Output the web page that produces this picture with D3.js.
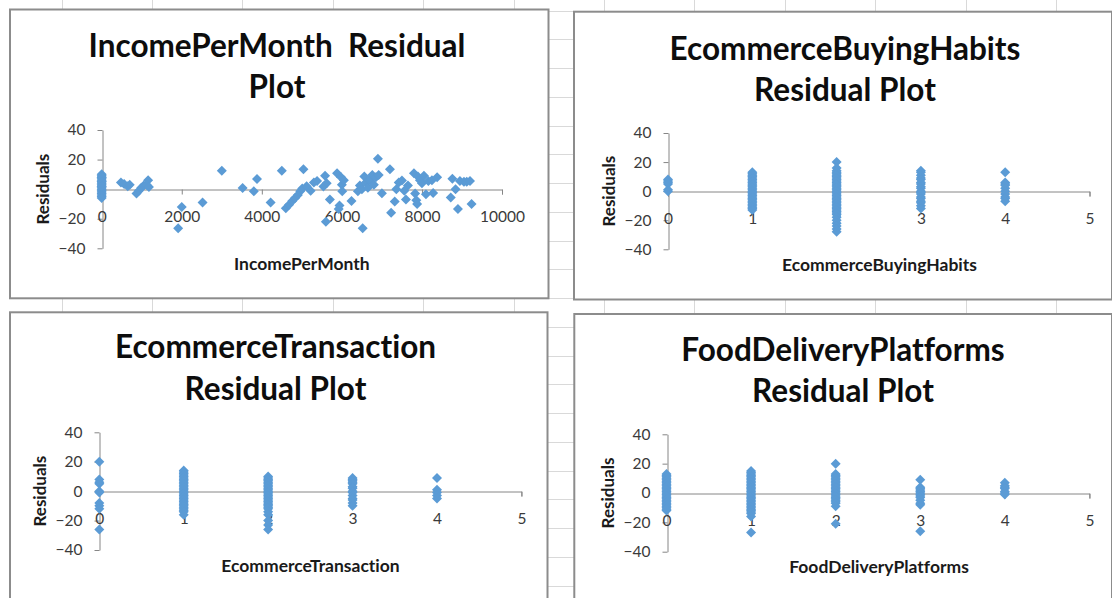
<!DOCTYPE html>
<html>
<head>
<meta charset="utf-8">
<script src="https://cdn.jsdelivr.net/npm/d3@7"></script>
<style>
  html, body { margin: 0; padding: 0; background: #ffffff; }
  svg { display: block; }
  text { font-family: Lato, "Open Sans", sans-serif; font-variant-ligatures: none; white-space: pre; }
</style>
</head>
<body>
<svg id="sheet" width="1112" height="598"></svg>
<script>
// ---- Data -------------------------------------------------------------

// Residuals against monthly income (paired arrays)
const incomePerMonth = [
  0, 0, 0, 0, 0, 0, 0, 0, 0, 0, 0, 0, 0, 0, 0, 0, 0, 0, 0, 0,
  480, 560, 650, 700, 870, 930, 990, 1050, 1120, 1160, 1180,
  1910, 2000, 2520, 3000, 3520, 3800, 3880, 4220, 4500,
  4600, 4680, 4760, 4830, 4900, 4960, 5010, 5040, 5120, 5220,
  5300, 5380, 5540, 5580, 5620, 5600, 5700, 5880, 5920, 5940,
  5980, 6000, 6010, 6050, 6240, 6400, 6450, 6500, 6520, 6560,
  6600, 6650, 6700, 6760, 6800, 6850, 6900, 6920, 7000, 7200,
  7230, 7320, 7360, 7420, 7500, 7560, 7600, 7650, 7800, 7830,
  7860, 7880, 7900, 7950, 8000, 8050, 8100, 8160, 8250, 8280,
  8380, 8720, 8760, 8840, 8900, 8950, 9050, 9120, 9200, 9240
];
const incomeResiduals = [
  10, 9, 8, 7, 6, 5, 4, 3, 2, 1, 0, -1, -2, -3, -4, -5, -6, 8, 5, 2,
  4.5, 3.5, 2, 3, -3, -1, 1, 2.5, 3, 6, 1.5,
  -26.5, -12, -9, 12.5, 0.8, -1.5, 6.8, -9, 12.5,
  -13, -10.5, -8, -6, -4, -1.5, 0.5, 13.5, 2, -1,
  4.5, 5.5, 1.8, 9, 4, -22, -7, 10.8, -13.5, -11,
  8, 3, -1.5, 6, -8, -1.5, 2.5, 0, -26.5, 8.5,
  4.5, 1, 6, 9.5, 3, 8, 20.5, 9.5, -2.8, 13.5,
  -16, -8.3, 0, 4.5, 5.8, -1, -7, 2.5, 10.8, -3,
  -7.5, -10, 8.5, 6, 4, 9, -3.5, 5.5, 6, -2.6,
  8, -5.7, 7, 0, -13.5, 5.5, 5, 5, 5.5, -10
];

// Categorical predictors: one list of residuals per level 0..4
const levels = [0, 1, 2, 3, 4];

const buyingHabitsResiduals = [
  [8, 7, 6, 5, 1, 0],
  [13, 12, 11, 10, 9, 8, 7, 6, 5, 4, 3, 2, 1, 0, -1, -2, -3, -4, -5, -6, -7, -8, -9, -10, -11, -12, -13],
  [20, 16, 14, 13, 12, 11, 10, 9, 8, 7, 6, 5, 4, 3, 2, 1, 0, -1, -2, -3, -4, -5, -6, -7, -8, -9, -10,
   -11, -12, -13, -14, -15, -16, -18, -20, -22, -24, -26, -28],
  [14, 13, 11, 9, 8, 6, 5, 3, 2, 0, -1, -2, -4, -5, -7, -8, -10, -12],
  [13, 6, 5, 4, 2, 0, -2, -4, -5, -7]
];

const transactionResiduals = [
  [20, 8, 6, 5, 0, -1, -8, -10, -12, -26],
  [14, 13, 12, 11, 10, 9, 8, 7, 6, 5, 4, 3, 2, 1, 0, -1, -2, -3, -4, -5, -6, -7, -8, -9, -10, -11, -12,
   -13, -14, -16],
  [10, 9, 8, 7, 6, 5, 4, 3, 2, 1, 0, -1, -2, -3, -4, -5, -6, -7, -8, -9, -10, -11, -12, -14, -16,
   -20, -23, -26],
  [9, 8, 7, 6, 5, 3, 2, 0, -1, -3, -5, -6, -8, -10],
  [9, 1, -1, -3, -5]
];

const foodDeliveryResiduals = [
  [13, 12, 11, 10, 9, 8, 7, 6, 5, 4, 3, 2, 1, 0, -1, -2, -3, -4, -5, -6, -7, -8, -9, -10, -11, -12],
  [15, 14, 13, 12, 11, 10, 9, 8, 7, 6, 5, 4, 3, 2, 1, 0, -1, -2, -3, -4, -5, -6, -7, -8, -9, -10, -11,
   -12, -13, -14, -16, -27],
  [20, 13, 12, 11, 10, 9, 8, 7, 6, 5, 4, 3, 2, 1, 0, -1, -2, -3, -4, -5, -6, -7, -9, -21],
  [9, 4, 3, 2, 1, 0, -1, -2, -3, -5, -7, -8, -26],
  [7, 5, 4, 3, 1, 0, -1]
];

// Axis ticks
const residualTicks = [-40, -20, 0, 20, 40];
const incomeTicks = [0, 2000, 4000, 6000, 8000, 10000];
const levelTicks = [0, 1, 2, 3, 4, 5];

// ---- Drawing ----------------------------------------------------------

const svg = d3.select("#sheet");
const W = 1112, H = 598;

const MARKER = "#5b9bd5";
const AXIS = "#868686";
const BORDER = "#8c8c8c";
const GRID = "#d9d9d9";

// worksheet cell grid behind the charts
const grid = svg.append("g").attr("class", "cells");
grid.selectAll("line.row")
  .data(d3.range(10.7, H, 28.75))
  .join("line")
  .attr("class", "row")
  .attr("x1", 10).attr("x2", W)
  .attr("y1", d => Math.round(d) + 0.5).attr("y2", d => Math.round(d) + 0.5)
  .attr("stroke", GRID).attr("stroke-width", 1);
grid.selectAll("line.col")
  .data(d3.range(61.5, W, 90.4))
  .join("line")
  .attr("class", "col")
  .attr("y1", 0).attr("y2", H)
  .attr("x1", d => Math.round(d) + 0.5).attr("x2", d => Math.round(d) + 0.5)
  .attr("stroke", GRID).attr("stroke-width", 1);

function pairs(xs, rs) {
  return xs.map((x, i) => ({ x, r: rs[i] }));
}
function byLevel(lvls, lists) {
  return lvls.flatMap((lv, i) => lists[i].map(r => ({ x: lv, r })));
}

const panels = [
  {
    box: { x0: 10, y0: 9.5, x1: 548.5, y1: 298.3 },
    plot: { left: 101.7, right: 502, top: 130, bottom: 248.3 },
    title: ["IncomePerMonth  Residual", "Plot"],
    titleX: 277, titleY: [56.5, 98],
    xTitle: "IncomePerMonth", xTitleX: 301.8,
    xMax: 10000, xTicks: incomeTicks,
    points: pairs(incomePerMonth, incomeResiduals)
  },
  {
    box: { x0: 574, y0: 11.7, x1: 1112, y1: 299.5 },
    plot: { left: 668, right: 1089.5, top: 133, bottom: 249.3 },
    title: ["EcommerceBuyingHabits", "Residual Plot"],
    titleX: 845, titleY: [60, 100.7],
    xTitle: "EcommerceBuyingHabits", xTitleX: 879.5,
    xMax: 5, xTicks: levelTicks,
    points: byLevel(levels, buyingHabitsResiduals)
  },
  {
    box: { x0: 10, y0: 312.3, x1: 547.5, y1: 640 },
    plot: { left: 99.3, right: 521.4, top: 432.3, bottom: 550 },
    title: ["EcommerceTransaction", "Residual Plot"],
    titleX: 275.5, titleY: [358.3, 400],
    xTitle: "EcommerceTransaction", xTitleX: 310.5,
    xMax: 5, xTicks: levelTicks,
    points: byLevel(levels, transactionResiduals)
  },
  {
    box: { x0: 574.3, y0: 314, x1: 1112, y1: 640 },
    plot: { left: 666.5, right: 1089.4, top: 434.3, bottom: 551.7 },
    title: ["FoodDeliveryPlatforms", "Residual Plot"],
    titleX: 843, titleY: [360.7, 402.3],
    xTitle: "FoodDeliveryPlatforms", xTitleX: 879,
    xMax: 5, xTicks: levelTicks,
    points: byLevel(levels, foodDeliveryResiduals)
  }
];

const diamond = d3.symbol().type(d3.symbolSquare).size(50);

function styleAxis(g) {
  g.attr("font-family", null).attr("font-size", null);
  g.select(".domain").attr("stroke", AXIS).attr("stroke-width", 1);
  g.selectAll(".tick line").attr("stroke", AXIS).attr("stroke-width", 1);
  g.selectAll(".tick text")
    .attr("fill", "#3a3a3a")
    .style("font-family", "Lato, 'Open Sans', sans-serif")
    .style("font-size", "15.5px");
}

panels.forEach(p => {
  const g = svg.append("g").attr("class", "chart");

  // chart area
  g.append("rect")
    .attr("x", p.box.x0).attr("y", p.box.y0)
    .attr("width", p.box.x1 - p.box.x0).attr("height", p.box.y1 - p.box.y0)
    .attr("fill", "#ffffff")
    .attr("stroke", BORDER).attr("stroke-width", 2);

  // title (the double space in the first chart's title is kept)
  g.append("g").selectAll("text")
    .data(p.title)
    .join("text")
    .attr("x", p.titleX)
    .attr("y", (d, i) => p.titleY[i])
    .attr("text-anchor", "middle")
    .attr("xml:space", "preserve")
    .attr("fill", "#0d0d0d")
    .style("font-weight", 700)
    .style("font-size", "31.5px")
    .text(d => d);

  const x = d3.scaleLinear().domain([0, p.xMax]).range([p.plot.left, p.plot.right]);
  const y = d3.scaleLinear().domain([-40, 40]).range([p.plot.bottom, p.plot.top]);

  // value axis
  g.append("g")
    .attr("transform", `translate(${Math.round(x(0)) + 0.5},0)`)
    .call(d3.axisLeft(y).tickValues(residualTicks).tickSize(5).tickSizeOuter(0).tickPadding(12))
    .call(styleAxis);

  // category axis crossing at zero
  g.append("g")
    .attr("transform", `translate(0,${Math.round(y(0)) + 0.5})`)
    .call(d3.axisBottom(x).tickValues(p.xTicks).tickSize(5).tickSizeOuter(5).tickPadding(16)
      .tickFormat(d3.format("d")))
    .call(styleAxis);

  // axis titles
  g.append("text")
    .attr("x", p.xTitleX)
    .attr("y", p.plot.bottom + 21.5)
    .attr("text-anchor", "middle")
    .attr("fill", "#1a1a1a")
    .style("font-weight", 700)
    .style("font-size", "17.5px")
    .text(p.xTitle);

  g.append("text")
    .attr("transform", `translate(${x(0) - 53},${(p.plot.top + p.plot.bottom) / 2}) rotate(-90)`)
    .attr("text-anchor", "middle")
    .attr("fill", "#1a1a1a")
    .style("font-weight", 700)
    .style("font-size", "17px")
    .text("Residuals");

  // residual markers
  g.append("g").selectAll("path")
    .data(p.points)
    .join("path")
    .attr("d", diamond)
    .attr("transform", d => `translate(${x(d.x)},${y(d.r)}) rotate(45)`)
    .attr("fill", MARKER);
});
</script>
</body>
</html>
